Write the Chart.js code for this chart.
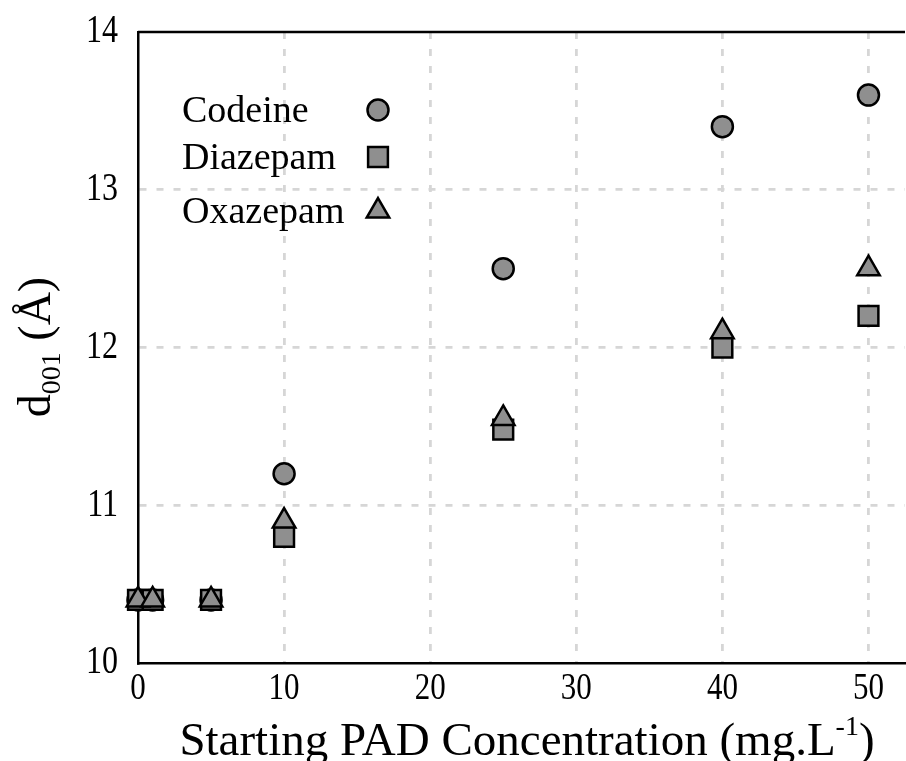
<!DOCTYPE html>
<html>
<head>
<meta charset="utf-8">
<script src="https://cdn.jsdelivr.net/npm/chart.js@4"></script>
<style>
  html, body { margin: 0; padding: 0; background: #fff; }
  #wrap { width: 906px; height: 761px; }
</style>
</head>
<body>
<div id="wrap"><canvas id="chart" width="906" height="761"></canvas></div>
<script>
// Starting concentrations (mg/L) and d001 spacing (Å) per drug
const concentrations = [0, 1, 5, 10, 25, 40, 50];
const codeine  = [10.4, 10.4, 10.4, 11.2, 12.5, 13.4, 13.6];
const diazepam = [10.4, 10.4, 10.4, 10.8, 11.48, 12.0, 12.2];
const oxazepam = [10.4, 10.4, 10.4, 10.9, 11.55, 12.1, 12.5];

const seriesNames = ['Codeine', 'Diazepam', 'Oxazepam'];
const xTicks = [0, 10, 20, 30, 40, 50];
const yTicks = [10, 11, 12, 13, 14];

const FONT = '"Liberation Serif", "Times New Roman", serif';
const FILL = '#8f8f8f';

function toPoints(ys) {
    return concentrations.map((x, i) => ({ x: x, y: ys[i] }));
}

const styles = [
    { pointStyle: 'circle', pointRadius: 10.5 },
    { pointStyle: 'rect', pointRadius: 14 },
    { pointStyle: 'triangle', pointRadius: 13 }
];

// later series sit on top (triangles over squares over circles)
const datasets = [codeine, diazepam, oxazepam].map((ys, i) => ({
    label: seriesNames[i],
    data: toPoints(ys),
    order: 3 - i,
    pointStyle: styles[i].pointStyle,
    pointRadius: styles[i].pointRadius,
    pointHoverRadius: styles[i].pointRadius,
    backgroundColor: FILL,
    borderColor: '#000',
    pointBorderWidth: 2.5,
    clip: false
}));

// text stretched a bit vertically, like the tick numbers in the original
function tallText(ctx, txt, x, y, size, stretch) {
    ctx.save();
    ctx.translate(x, y);
    ctx.scale(1, stretch);
    ctx.font = size + 'px ' + FONT;
    ctx.fillText(txt, 0, 0);
    ctx.restore();
}

// Legend inside the plot, text then marker
const legendPlugin = {
    id: 'insideLegend',
    afterDatasetsDraw(chart) {
        const ctx = chart.ctx;
        const rows = [110, 157, 211];
        ctx.save();
        chart.data.datasets.forEach((ds, i) => {
            ctx.font = '38px ' + FONT;
            ctx.fillStyle = '#000';
            ctx.textBaseline = 'middle';
            ctx.textAlign = 'left';
            ctx.fillText(ds.label, 182, rows[i] + 2);
            ctx.fillStyle = FILL;
            ctx.strokeStyle = '#000';
            ctx.lineWidth = 2.5;
            Chart.helpers.drawPoint(ctx, {
                pointStyle: ds.pointStyle,
                radius: ds.pointRadius,
                borderWidth: 2.5
            }, 378, rows[i]);
        });
        ctx.restore();
    }
};

// Tick labels, axis titles with sub/superscripts, plus the top frame line
const textPlugin = {
    id: 'axisText',
    afterDraw(chart) {
        const ctx = chart.ctx;
        const area = chart.chartArea;
        const xs = chart.scales.x;
        const ys = chart.scales.y;
        ctx.save();
        ctx.strokeStyle = '#000';
        ctx.lineWidth = 2.5;
        ctx.beginPath();
        ctx.moveTo(area.left, area.top);
        ctx.lineTo(area.right, area.top);
        ctx.stroke();

        ctx.fillStyle = '#000';

        // tick labels
        ctx.textBaseline = 'middle';
        ctx.textAlign = 'center';
        xTicks.forEach(v => tallText(ctx, String(v), xs.getPixelForValue(v), 689, 31, 1.22));
        ctx.textAlign = 'right';
        yTicks.forEach(v => tallText(ctx, String(v), 118, ys.getPixelForValue(v), 32, 1.22));

        // x title
        ctx.textBaseline = 'alphabetic';
        ctx.textAlign = 'left';
        const main = 'Starting PAD Concentration (mg.L';
        const sup = '-1';
        ctx.font = '47px ' + FONT;
        const wMain = ctx.measureText(main).width;
        const wClose = ctx.measureText(')').width;
        ctx.font = '28px ' + FONT;
        const wSup = ctx.measureText(sup).width;
        let x = 527 - (wMain + wSup + wClose) / 2;
        const base = 755;
        ctx.font = '47px ' + FONT;
        ctx.fillText(main, x, base);
        x += wMain;
        ctx.font = '28px ' + FONT;
        ctx.fillText(sup, x, base - 20);
        x += wSup;
        ctx.font = '47px ' + FONT;
        ctx.fillText(')', x, base);

        // y title, rotated
        ctx.translate(50, 347);
        ctx.rotate(-Math.PI / 2);
        ctx.font = '46px ' + FONT;
        const wd = ctx.measureText('d').width;
        const wRest = ctx.measureText(' (Å)').width;
        ctx.font = '28px ' + FONT;
        const wSub = ctx.measureText('001').width;
        let yx = -(wd + wSub + wRest) / 2;
        ctx.font = '46px ' + FONT;
        ctx.fillText('d', yx, 0);
        yx += wd;
        ctx.font = '28px ' + FONT;
        ctx.fillText('001', yx, 10);
        yx += wSub;
        ctx.font = '46px ' + FONT;
        ctx.fillText(' (Å)', yx, 0);
        ctx.restore();
    }
};

new Chart(document.getElementById('chart').getContext('2d'), {
    type: 'scatter',
    data: { datasets: datasets },
    options: {
        responsive: false,
        animation: false,
        layout: { autoPadding: false, padding: { top: 32, right: 1, left: 0, bottom: 0 } },
        plugins: {
            legend: { display: false },
            tooltip: { enabled: false }
        },
        scales: {
            x: {
                type: 'linear',
                min: 0,
                max: 52.5,
                afterBuildTicks(axis) {
                    axis.ticks = xTicks.map(v => ({ value: v }));
                },
                afterFit(axis) { axis.height = 98; },
                ticks: { display: false },
                grid: {
                    color: ctx => (ctx.tick && ctx.tick.value === 0 ? 'rgba(0,0,0,0)' : '#d6d6d6'),
                    lineWidth: 2.8,
                    drawTicks: false
                },
                border: { color: '#000', width: 2.5, dash: [7, 10] }
            },
            y: {
                type: 'linear',
                min: 10,
                max: 14,
                afterBuildTicks(axis) {
                    axis.ticks = yTicks.map(v => ({ value: v }));
                },
                afterFit(axis) { axis.width = 138; },
                ticks: { display: false },
                grid: {
                    color: ctx => (ctx.tick && (ctx.tick.value === 10 || ctx.tick.value === 14) ? 'rgba(0,0,0,0)' : '#d6d6d6'),
                    lineWidth: 2.8,
                    drawTicks: false
                },
                border: { color: '#000', width: 2.5, dash: [7, 10] }
            }
        }
    },
    plugins: [legendPlugin, textPlugin]
});
</script>
</body>
</html>
